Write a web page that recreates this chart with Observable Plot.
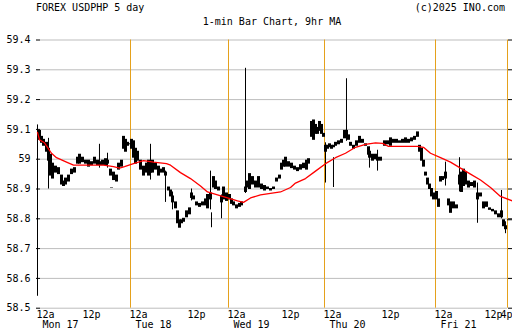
<!DOCTYPE html>
<html>
<head>
<meta charset="utf-8">
<script src="https://cdn.jsdelivr.net/npm/d3@7"></script>
<script src="https://cdn.jsdelivr.net/npm/@observablehq/plot@0.6"></script>
<style>
  html, body { margin: 0; padding: 0; background: white; }
  #wrap { position: relative; width: 512px; height: 335px; font-family: "DejaVu Sans Mono", monospace; font-size: 10px; color: black; }
  .t { position: absolute; line-height: 10px; white-space: pre; }
  #chart { position: absolute; left: 0; top: 0; }
</style>
</head>
<body>
<div id="wrap">
  <div id="chart"></div>
  <div class="t" style="left:36px; top:3px;">FOREX USDPHP 5 day</div>
  <div class="t" style="right:7px; top:3px;">(c)2025 INO.com</div>
  <div class="t" style="left:0; width:544px; text-align:center; top:16.5px;">1-min Bar Chart, 9hr MA</div>
</div>
<script>
// hours since Mon 00:00 ; [hour, low, high]
const monBars = [[0.52,59.06,59.10],[1.04,59.05,59.08],[1.57,59.04,59.07],[2.35,59.02,59.06],[2.87,58.99,59.04],[3.39,58.94,59.02],[3.91,58.93,58.99],[4.70,58.95,58.98],[5.48,58.945,58.975],[6.26,58.91,58.95],[6.78,58.905,58.93],[7.30,58.91,58.94],[8.09,58.92,58.95],[8.87,58.945,58.97],[9.65,58.95,58.975],[10.43,58.98,59.01],[10.96,58.98,59.02],[11.74,58.985,59.01],[12.51,58.98,59.0],[13.28,58.97,59.0],[14.04,58.975,58.995],[14.81,58.98,59.01],[15.57,58.975,59.0],[16.08,58.975,58.995],[16.85,58.975,59.0],[17.62,58.975,59.005],[18.13,58.98,59.0],[18.89,58.94,58.97],[19.15,58.90,58.905],[19.66,58.925,58.96],[20.43,58.92,58.95],[20.94,58.96,58.99],[21.70,58.97,59.0],[22.21,59.03,59.08],[22.72,59.02,59.07],[23.23,59.04,59.06],[23.74,59.045,59.055]];
const tueBars = [[24.21,59.03,59.07],[24.62,59.0,59.065],[25.03,58.98,59.04],[25.45,58.99,59.03],[26.07,58.96,59.0],[26.69,58.94,58.98],[27.31,58.95,58.99],[27.72,58.94,59.0],[28.14,58.95,58.99],[28.55,58.95,59.0],[29.17,58.96,58.99],[29.79,58.94,58.98],[30.21,58.95,58.97],[30.83,58.95,58.975],[31.24,58.94,58.96],[31.86,58.89,58.91],[32.28,58.87,58.90],[32.69,58.85,58.88],[33.31,58.83,58.86],[33.72,58.78,58.83],[34.14,58.765,58.80],[34.55,58.78,58.80],[34.97,58.785,58.805],[35.59,58.80,58.83],[36.30,58.81,58.84],[36.90,58.865,58.89],[37.50,58.86,58.88],[38.40,58.84,58.86],[39.30,58.835,58.855],[40.20,58.84,58.86],[41.10,58.84,58.87],[41.70,58.83,58.885],[42.60,58.86,58.89],[43.50,58.90,58.945],[44.10,58.895,58.93],[45.00,58.89,58.91],[45.90,58.85,58.88],[46.50,58.86,58.91],[47.40,58.855,58.89]];
const wedBars = [[48.22,58.86,58.885],[48.67,58.845,58.87],[49.11,58.84,58.86],[49.78,58.83,58.85],[50.44,58.835,58.855],[50.89,58.84,58.86],[51.78,58.885,58.91],[52.22,58.90,58.93],[52.67,58.895,58.955],[53.33,58.91,58.945],[54.0,58.90,58.93],[54.67,58.90,58.945],[55.33,58.895,58.92],[56.0,58.89,58.915],[56.67,58.895,58.91],[57.33,58.89,58.905],[58.0,58.895,58.91],[58.67,58.92,58.94],[59.33,58.93,58.95],[59.78,58.96,58.99],[60.29,58.97,59.0],[60.86,58.97,59.01],[61.71,58.97,58.995],[62.57,58.965,58.99],[63.43,58.96,58.98],[64.29,58.955,58.975],[65.14,58.96,58.985],[66.0,58.965,58.99],[66.86,58.96,59.0],[67.43,58.98,59.005],[68.29,59.07,59.13],[68.86,59.06,59.135],[69.43,59.08,59.12],[70.0,59.08,59.11],[70.57,59.09,59.13],[71.14,59.08,59.12],[71.71,59.07,59.09]];
const thuBars = [[72.21,59.02,59.05],[72.62,59.03,59.05],[73.03,59.035,59.055],[73.45,59.03,59.05],[73.86,59.035,59.05],[74.28,59.04,59.06],[74.90,59.045,59.065],[75.52,59.05,59.07],[76.14,59.065,59.10],[76.55,59.07,59.10],[76.97,59.06,59.085],[77.38,59.04,59.06],[78.0,59.03,59.05],[78.62,59.04,59.065],[79.24,59.05,59.08],[79.86,59.05,59.07],[80.48,59.04,59.055],[81.10,59.01,59.045],[81.31,59.0,59.03],[81.93,58.99,59.02],[82.55,58.995,59.02],[82.97,58.99,59.01],[83.59,58.99,59.01],[84.45,59.04,59.065],[85.13,59.045,59.065],[85.81,59.04,59.075],[86.49,59.05,59.07],[87.17,59.05,59.07],[87.85,59.05,59.065],[88.53,59.05,59.07],[89.21,59.05,59.075],[89.89,59.05,59.07],[90.57,59.055,59.075],[91.25,59.06,59.08],[91.92,59.07,59.095],[92.38,59.02,59.05],[92.83,58.99,59.04],[93.28,58.97,59.0],[93.74,58.94,58.96],[94.19,58.91,58.94],[94.64,58.895,58.92],[95.09,58.87,58.905],[95.55,58.86,58.89]];
const friBars = [[96.24,58.86,58.895],[96.72,58.835,58.87],[97.20,58.92,58.945],[97.68,58.925,58.945],[98.40,58.93,58.96],[99.12,58.84,58.87],[99.60,58.815,58.86],[100.32,58.83,58.86],[101.04,58.83,58.85],[101.76,58.91,58.95],[102.24,58.885,58.96],[102.72,58.905,58.97],[103.20,58.91,58.96],[103.92,58.90,58.93],[104.64,58.905,58.925],[105.36,58.90,58.93],[106.08,58.86,58.89],[106.80,58.87,58.89],[107.52,58.83,58.86],[108.18,58.835,58.86],[108.73,58.825,58.84],[109.27,58.82,58.835],[109.82,58.81,58.83],[110.36,58.80,58.82],[110.91,58.80,58.83],[111.27,58.77,58.80],[111.64,58.76,58.78],[112.18,58.79,58.80],[112.73,58.79,58.80]];
// single-minute extremes (thin wicks)
const wicks = [[0.0,58.54,59.115],[2.87,58.90,59.07],[16.08,58.97,59.05],[18.13,58.97,59.02],[28.14,58.93,59.05],[31.24,58.855,58.96],[32.69,58.83,58.89],[36.90,58.86,58.90],[42.60,58.83,58.96],[42.90,58.77,58.82],[45.90,58.80,58.88],[51.78,58.885,59.305],[72.21,58.92,59.055],[73.86,58.905,59.005],[76.55,59.06,59.27],[81.31,58.97,59.04],[82.97,58.96,59.03],[98.40,58.91,58.99],[101.76,58.89,59.005],[106.08,58.785,58.92],[110.91,58.80,58.895],[111.64,58.75,58.79]];
// 9hr moving average [hour, value]
const ma9 = [[0,59.09],[0.52,59.065],[1.83,59.055],[2.87,59.035],[3.65,59.02],[4.96,59.005],[7.57,58.99],[9.39,58.98],[13.53,58.98],[17.11,58.98],[19.66,58.975],[21.19,58.97],[22.47,58.975],[24.62,58.985],[26.69,58.995],[28.76,58.99],[31.45,58.985],[32.28,58.98],[34.34,58.955],[36.6,58.935],[39.6,58.91],[41.7,58.89],[44.7,58.88],[47.7,58.87],[50.0,58.86],[51.33,58.855],[52.89,58.87],[55.11,58.88],[57.33,58.885],[59.56,58.89],[62.29,58.905],[63.71,58.92],[66.57,58.935],[69.43,58.96],[72.21,58.985],[74.28,59.005],[76.34,59.02],[78.41,59.04],[80.48,59.05],[82.55,59.055],[84.0,59.053],[85.36,59.043],[91.92,59.043],[93.28,59.04],[94.87,59.02],[97.2,59.005],[99.6,58.99],[102.0,58.97],[104.4,58.95],[106.8,58.93],[108.91,58.905],[110.73,58.875],[112.91,58.86]];
const yTicks = [58.5,58.6,58.7,58.8,58.9,59.0,59.1,59.2,59.3,59.4];
const dayLines = [24, 48, 72, 96, 112];
const timeTicks = [[0,"12a"],[12,"12p"],[24,"12a"],[36,"12p"],[48,"12a"],[60,"12p"],[72,"12a"],[84,"12p"],[96,"12a"],[108,"12p"]];
const endTick = [[112,"4p"]];
const dayTicks = [[0,"Mon 17"],[24,"Tue 18"],[48,"Wed 19"],[72,"Thu 20"],[96,"Fri 21"]];

const bars = [...monBars, ...tueBars, ...wedBars, ...thuBars, ...friBars];
const fmt = d => String(+d.toFixed(1));

const chart = Plot.plot({
  width: 512,
  height: 335,
  marginLeft: 37,
  marginRight: 5,
  marginTop: 39.5,
  marginBottom: 27.3,
  x: {type: "linear", axis: null, domain: [0,12,24,36,48,60,72,84,96,108,112], range: [37,83,130,188,228,282,324,382,435,485,507]},
  y: {domain: [58.5, 59.4]},
  style: {fontFamily: "DejaVu Sans Mono", fontSize: "10px", background: "white", color: "black", overflow: "visible"},
  marks: [
    Plot.gridY(yTicks, {stroke: "#bdbdbd", strokeOpacity: 1, insetLeft: 3}),
    Plot.ruleX(dayLines, {stroke: "#e5a11c", strokeWidth: 1}),
    Plot.axisY(yTicks, {tickSize: 4, dx: 3, tickPadding: 6, tickFormat: fmt, stroke: "black", fill: "black"}),
    Plot.axisY(yTicks, {anchor: "right", tickSize: 5, tickFormat: () => "", stroke: "black"}),
    Plot.ruleX(wicks, {x: d => d[0], y1: d => d[1], y2: d => d[2], stroke: "black", strokeWidth: 1}),
    Plot.ruleX(bars, {x: d => d[0], y1: d => d[1], y2: d => d[2], stroke: "black", strokeWidth: 3, insetTop: -1, insetBottom: -1}),
    Plot.line(ma9, {x: d => d[0], y: d => d[1], stroke: "red", strokeWidth: 1.3}),
    Plot.text(timeTicks, {x: d => d[0], text: d => d[1], frameAnchor: "bottom", dy: 10, dx: -1, textAnchor: "start", fill: "black"}),
    Plot.text(endTick, {x: d => d[0], text: d => d[1], frameAnchor: "bottom", dy: 10, dx: 5, textAnchor: "end", fill: "black"}),
    Plot.text(dayTicks, {x: d => d[0], text: d => d[1], frameAnchor: "bottom", dy: 20, dx: 5, textAnchor: "start", fill: "black"})
  ]
});
document.getElementById("chart").appendChild(chart);
</script>
</body>
</html>
